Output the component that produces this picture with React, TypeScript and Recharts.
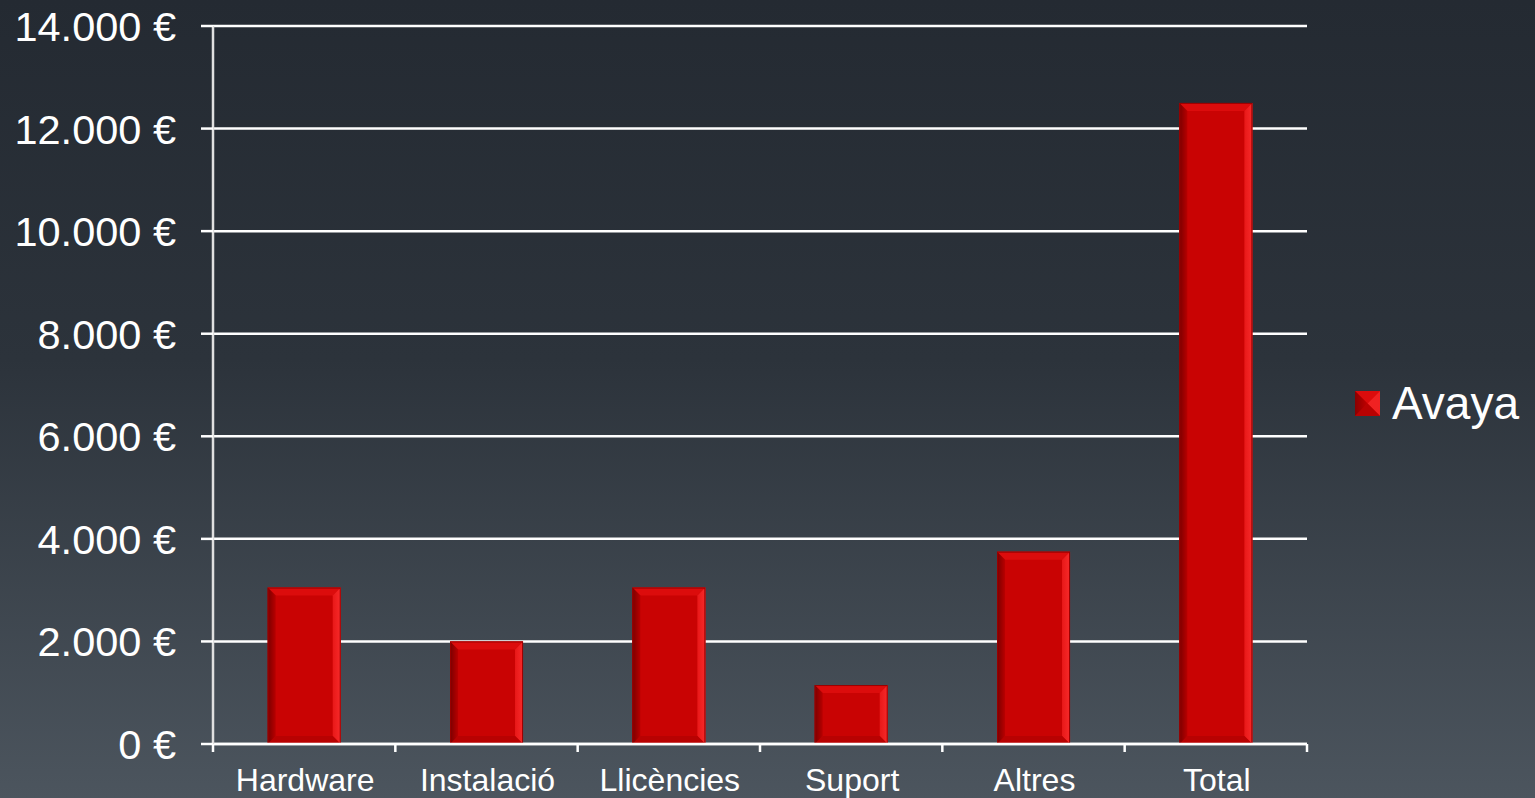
import React from 'react';
import { BarChart, Bar, XAxis, YAxis, CartesianGrid, Legend } from 'recharts';

const categories = ['Hardware', 'Instalació', 'Llicències', 'Suport', 'Altres', 'Total'];
const avayaValues = [3050, 2000, 3050, 1150, 3750, 12500];
const yTicks = [0, 2000, 4000, 6000, 8000, 10000, 12000, 14000];
const seriesName = 'Avaya';

const data = categories.map((c, i) => ({ name: c, avaya: avayaValues[i] }));

const FONT = '"Liberation Sans", Arial, sans-serif';

const formatEuro = (v: number) => {
  const s = String(v).replace(/\B(?=(\d{3})+(?!\d))/g, '.');
  return `${s} €`;
};

const BevelBar = (props: any) => {
  const { x, y, width, height } = props;
  if (!height || height <= 0) return null;
  const b = Math.min(8, width / 4, height / 4);
  const x2 = x + width;
  const y2 = y + height;
  return (
    <g>
      <rect x={x} y={y} width={width} height={height} fill="#c90303" />
      <polygon points={`${x},${y} ${x2},${y} ${x2 - b},${y + b} ${x + b},${y + b}`} fill="#dc0c0c" />
      <polygon points={`${x2},${y} ${x2},${y2} ${x2 - b},${y2 - b} ${x2 - b},${y + b}`} fill="url(#bevelRight)" />
      <polygon points={`${x},${y2} ${x2},${y2} ${x2 - b},${y2 - b} ${x + b},${y2 - b}`} fill="#b80202" />
      <polygon points={`${x},${y} ${x + b},${y + b} ${x + b},${y2 - b} ${x},${y2}`} fill="url(#bevelLeft)" />
      <rect x={x + 0.5} y={y + 0.5} width={width - 1} height={height - 1} fill="none" stroke="#9a0000" strokeWidth={1} />
    </g>
  );
};

const XTick = (props: any) => {
  const { x, y, payload, index, visibleTicksCount } = props;
  const off = payload && payload.offset ? payload.offset : 0;
  const axisY = y - 8;
  return (
    <g>
      <line x1={x - off} y1={axisY} x2={x - off} y2={axisY + 8} stroke="#ffffff" strokeWidth={2.5} />
      {index === visibleTicksCount - 1 && (
        <line x1={x + off} y1={axisY} x2={x + off} y2={axisY + 8} stroke="#ffffff" strokeWidth={2.5} />
      )}
      <text x={x + 1} y={axisY + 47} textAnchor="middle" fill="#ffffff" fontSize={32} fontFamily={FONT}>
        {payload.value}
      </text>
    </g>
  );
};

const YTick = (props: any) => {
  const { x, y, payload } = props;
  return (
    <text x={x - 25} y={y} dy="0.36em" textAnchor="end" fill="#ffffff" fontSize={41.5} fontFamily={FONT}>
      {formatEuro(payload.value)}
    </text>
  );
};

const LegendContent = () => (
  <div style={{ display: 'flex', alignItems: 'center', whiteSpace: 'nowrap', width: 220, height: 52 }}>
    <svg width={25} height={25} style={{ marginRight: 12, flexShrink: 0, display: 'block' }}>
      <defs>
        <linearGradient id="lgBev" x1="0" y1="0" x2="1" y2="0">
          <stop offset="0" stopColor="#8a0000" />
          <stop offset="1" stopColor="#c00000" />
        </linearGradient>
      </defs>
      <rect x={0} y={0} width={25} height={25} fill="#c90303" />
      <polygon points="0,0 25,0 12.5,12.5" fill="#dc0c0c" />
      <polygon points="25,0 25,25 12.5,12.5" fill="#f02222" />
      <polygon points="0,25 25,25 12.5,12.5" fill="#b80202" />
      <polygon points="0,0 0,25 12.5,12.5" fill="url(#lgBev)" />
    </svg>
    <span style={{ color: '#ffffff', fontSize: 46, fontFamily: FONT, lineHeight: '52px' }}>{seriesName}</span>
  </div>
);

export default function App() {
  return (
    <div
      style={{
        position: 'fixed',
        left: 0,
        top: 0,
        width: 1535,
        height: 798,
        background: 'linear-gradient(to bottom, #242a32 0%, #2c333b 45%, #4c555e 100%)',
        overflow: 'hidden',
      }}
    >
      <BarChart
        width={1535}
        height={798}
        data={data}
        margin={{ top: 26, right: 228, bottom: 0, left: 0 }}
        barCategoryGap="30%"
      >
        <defs>
          <linearGradient id="bevelLeft" x1="0" y1="0" x2="1" y2="0">
            <stop offset="0" stopColor="#7a0000" />
            <stop offset="1" stopColor="#b80000" />
          </linearGradient>
          <linearGradient id="bevelRight" x1="0" y1="0" x2="1" y2="0">
            <stop offset="0" stopColor="#e81818" />
            <stop offset="1" stopColor="#f72a2a" />
          </linearGradient>
        </defs>
        <CartesianGrid horizontal vertical={false} stroke="#ffffff" strokeWidth={2.5} />
        <XAxis
          dataKey="name"
          height={54}
          tickSize={8}
          tickMargin={0}
          tickLine={false}
          axisLine={{ stroke: '#ffffff', strokeWidth: 2.5 }}
          tick={<XTick />}
          interval={0}
        />
        <YAxis
          width={213}
          domain={[0, 14000]}
          ticks={yTicks}
          tickSize={12}
          tickMargin={0}
          tickLine={{ stroke: '#ffffff', strokeWidth: 2.5 }}
          axisLine={{ stroke: '#e0e0e0', strokeWidth: 2.5 }}
          tick={<YTick />}
          interval={0}
        />
        <Legend
          content={<LegendContent />}
          wrapperStyle={{ position: 'absolute', left: 1355, top: 377, width: 220, height: 0, overflow: 'visible' }}
        />
        <Bar dataKey="avaya" name={seriesName} shape={<BevelBar />} isAnimationActive={false} />
      </BarChart>
    </div>
  );
}
